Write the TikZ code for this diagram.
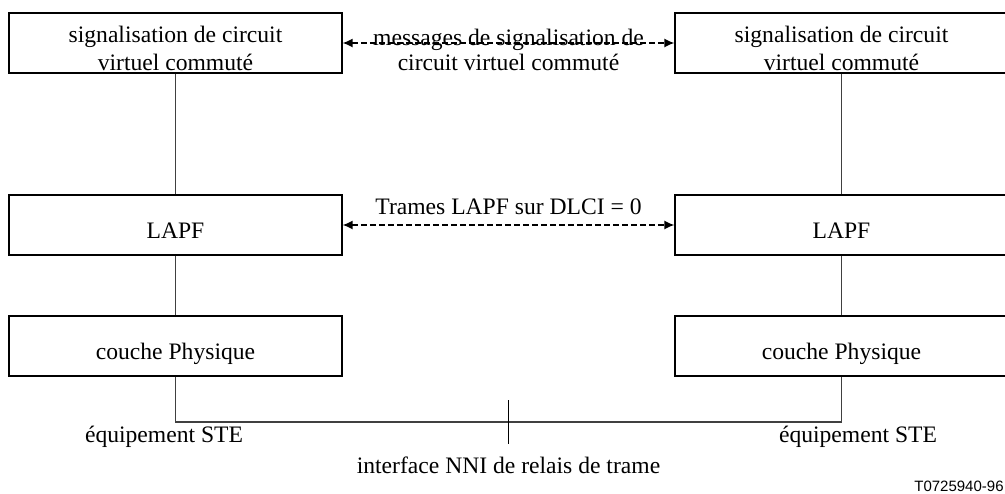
\documentclass[tikz,border=0pt]{standalone}
\usepackage{fontspec}
\setmainfont{Liberation Serif}
\setsansfont{Liberation Sans}
\usetikzlibrary{arrows,arrows.meta,positioning,calc}
\newcommand{\topstrut}{\rule{0pt}{14pt}}
\tikzset{
    block/.style = {
        draw,
        fill=white,
        rectangle,
        line width=0.6pt,
        inner sep=0pt,
        font=\fontsize{11.8}{14}\selectfont,
        text height=13.5pt,
        text depth=0pt,
        minimum height=30pt,
        minimum width=166.5pt
    },
    block2/.style = {
        draw,
        fill=white,
        rectangle,
        line width=0.6pt,
        inner sep=0pt,
        align=center,
        font=\fontsize{11.8}{14}\selectfont,
        minimum height=30pt,
        minimum width=166.5pt
    },
    txt/.style = {
        inner sep=0pt,
        align=center,
        font=\fontsize{11.8}{12.5}\selectfont
    },
    link/.style = {
        line width=0.6pt,
        draw=black!75
    },
    msg/.style = {
        {Latex[length=5pt,width=4.5pt]}-{Latex[length=5pt,width=4.5pt]},
        line width=0.7pt,
        dash pattern=on 3pt off 1.5pt
    }
}
\begin{document}
\begin{tikzpicture}[auto, node distance=2cm]
            \useasboundingbox (-87.75pt,21.5pt) rectangle (414.75pt,-225pt);
            % nodes
            \node [block2] (sigA) {\topstrut signalisation de circuit\\virtuel commuté};
            \node [block,below of=sigA,node distance=91pt] (lapfA) {LAPF};
            \node [block,below of=lapfA,node distance=60.5pt] (physA) {couche Physique};
            \node [block2,right of=sigA,node distance=333pt] (sigB) {\topstrut signalisation de circuit\\virtuel commuté};
            \node [block,right of=lapfA,node distance=333pt] (lapfB) {LAPF};
            \node [block,right of=physA,node distance=333pt] (physB) {couche Physique};

            \coordinate [below of=physA,node distance=38pt] (busA);
            \coordinate [below of=physB,node distance=38pt] (busB);
            \coordinate (mid) at ($(busA)!0.5!(busB)$);

            \node [txt,below of=physA,node distance=45.5pt,xshift=-5.75pt] (steA) {équipement STE};
            \node [txt,below of=physB,node distance=45.5pt,xshift=8.25pt] (steB) {équipement STE};
            \node [txt,below of=mid,node distance=21.5pt] (nni) {interface NNI de relais de trame};
            \node [anchor=south east,inner sep=0.5pt,font=\sffamily\fontsize{7.5}{9}\selectfont] (ref) at (414.75pt,-225pt) {T0725940-96};

            % links
            \draw [link] (sigA) -- (lapfA);
            \draw [link] (lapfA) -- (physA);
            \draw [link] (sigB) -- (lapfB);
            \draw [link] (lapfB) -- (physB);
            \draw [link] (physA) -- (busA) -- (busB) -- (physB);
            \draw [line width=0.8pt] ([yshift=11pt]mid) -- ([yshift=-11pt]mid);

            % arrows
            \draw [msg] (sigA) -- node [txt,anchor=center,midway,yshift=-3.5pt] {messages de signalisation de\\circuit virtuel commuté} (sigB);
            \draw [msg] (lapfA) -- node [txt,anchor=center,midway,yshift=9pt] {Trames LAPF sur DLCI = 0} (lapfB);
        \end{tikzpicture}
\end{document}
